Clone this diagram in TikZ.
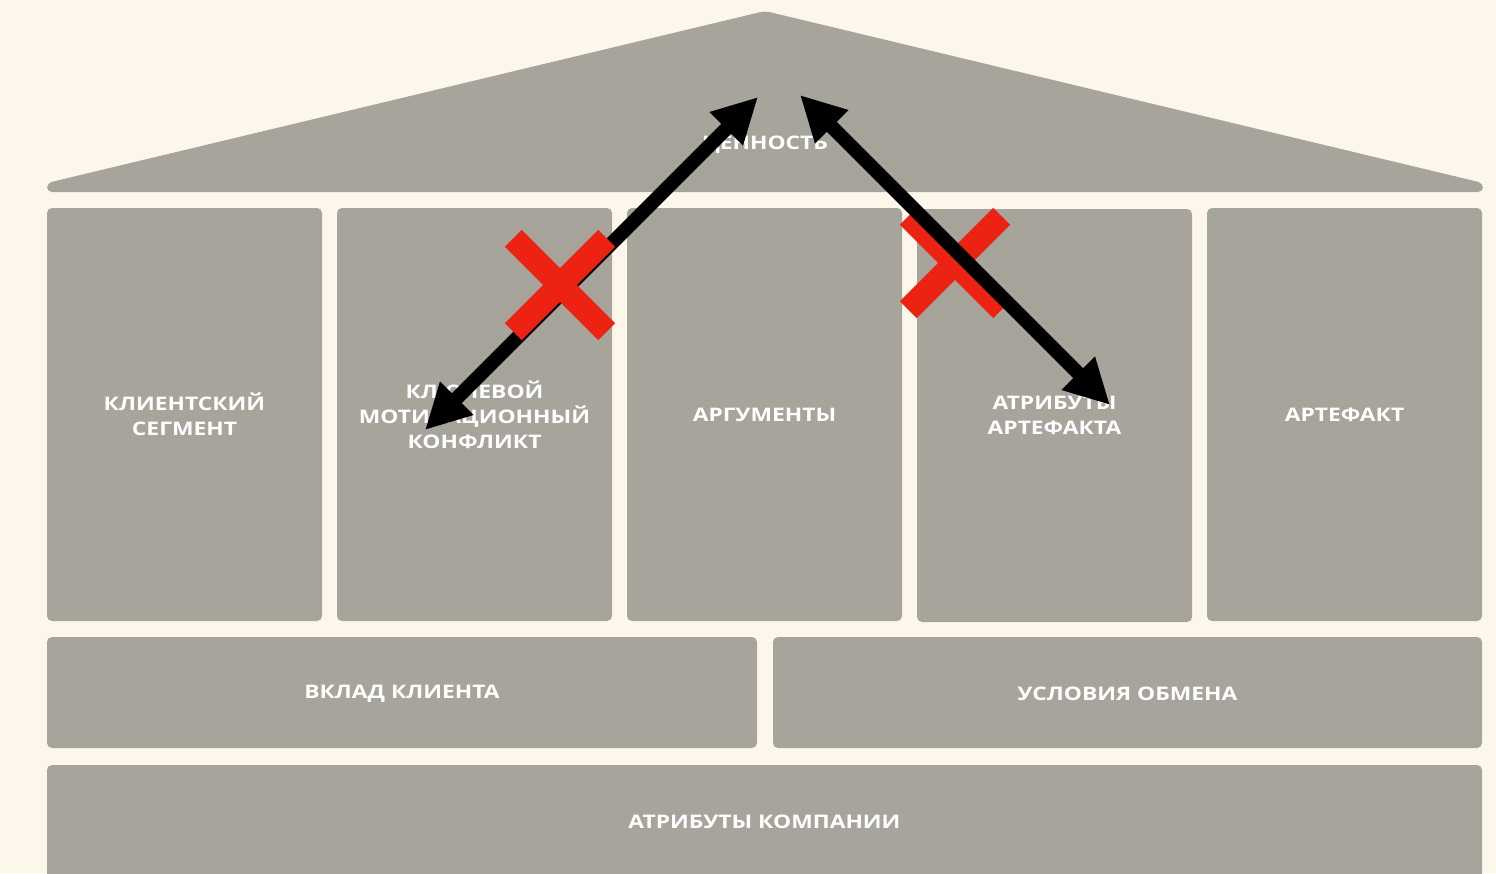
\documentclass[tikz,border=0pt]{standalone}
\usepackage{fontspec}
\setmainfont{Open Sans}[FakeStretch=1.22]
\usetikzlibrary{arrows.meta}
\definecolor{bg}{HTML}{FDF7EB}
\definecolor{blockgray}{HTML}{A7A49C}
\definecolor{crossred}{HTML}{EC2213}
\tikzset{
  labelfont/.style={text=white, font=\fontsize{18.7}{25}\selectfont\bfseries},
  block/.style={fill=blockgray, rounded corners=5pt, inner sep=0pt, align=center, labelfont},
  bigarrow/.style={line width=14pt, {Triangle[length=45pt,width=44pt]}-{Triangle[length=45pt,width=44pt]}},
  crossbar/.style={fill=crossred, minimum width=132pt, minimum height=24pt, inner sep=0pt}
}
\begin{document}
\begin{tikzpicture}[x=1pt,y=-1pt]
\fill[bg] (0,0) rectangle (1496,873);
\useasboundingbox (0,0) rectangle (1496,873);
% roof
\fill[blockgray, rounded corners=5pt] (765,11) -- (1483,183) -- (1483,192) -- (47,192) -- (47,183) -- cycle;
\node[labelfont] (value) at (765,145) {ЦЕННОСТЬ};
% row 1
\node[block, minimum width=275pt, minimum height=413pt] (seg) at (184.5,414.5) {КЛИЕНТСКИЙ\\СЕГМЕНТ};
\node[block, minimum width=275pt, minimum height=413pt] (conf) at (474.5,414.5) {КЛЮЧЕВОЙ\\МОТИВАЦИОННЫЙ\\КОНФЛИКТ};
\node[block, minimum width=275pt, minimum height=413pt] (arg) at (764.5,414.5) {АРГУМЕНТЫ};
\node[block, minimum width=275pt, minimum height=413pt] (attr) at (1054.5,415.5) {АТРИБУТЫ\\АРТЕФАКТА};
\node[block, minimum width=275pt, minimum height=413pt] (art) at (1344.5,414.5) {АРТЕФАКТ};
% row 2
\node[block, minimum width=710pt, minimum height=111pt] (contrib) at (402,692.5) {};
\node[labelfont] (contribText) at (402,694) {ВКЛАД КЛИЕНТА};
\node[block, minimum width=709pt, minimum height=111pt] (terms) at (1127.5,692.5) {};
\node[labelfont] (termsText) at (1127.5,694) {УСЛОВИЯ ОБМЕНА};
% row 3
\node[block, minimum width=1435pt, minimum height=114pt] (company) at (764.5,822) {АТРИБУТЫ КОМПАНИИ};
% arrow endpoints
\coordinate (valL) at (758,97);
\coordinate (confTip) at (425,430);
\coordinate (valR) at (800,95);
\coordinate (attrTip) at (1110,405);
% left arrow, cross on top
\draw[bigarrow] (valL) -- (confTip);
\node[crossbar, rotate=45] (crossLa) at (560,285) {};
\node[crossbar, rotate=-45] (crossLb) at (560,285) {};
% right cross, arrow on top
\node[crossbar, rotate=45] (crossRa) at (955,263) {};
\node[crossbar, rotate=-45] (crossRb) at (955,263) {};
\draw[bigarrow] (valR) -- (attrTip);
\end{tikzpicture}
\end{document}
